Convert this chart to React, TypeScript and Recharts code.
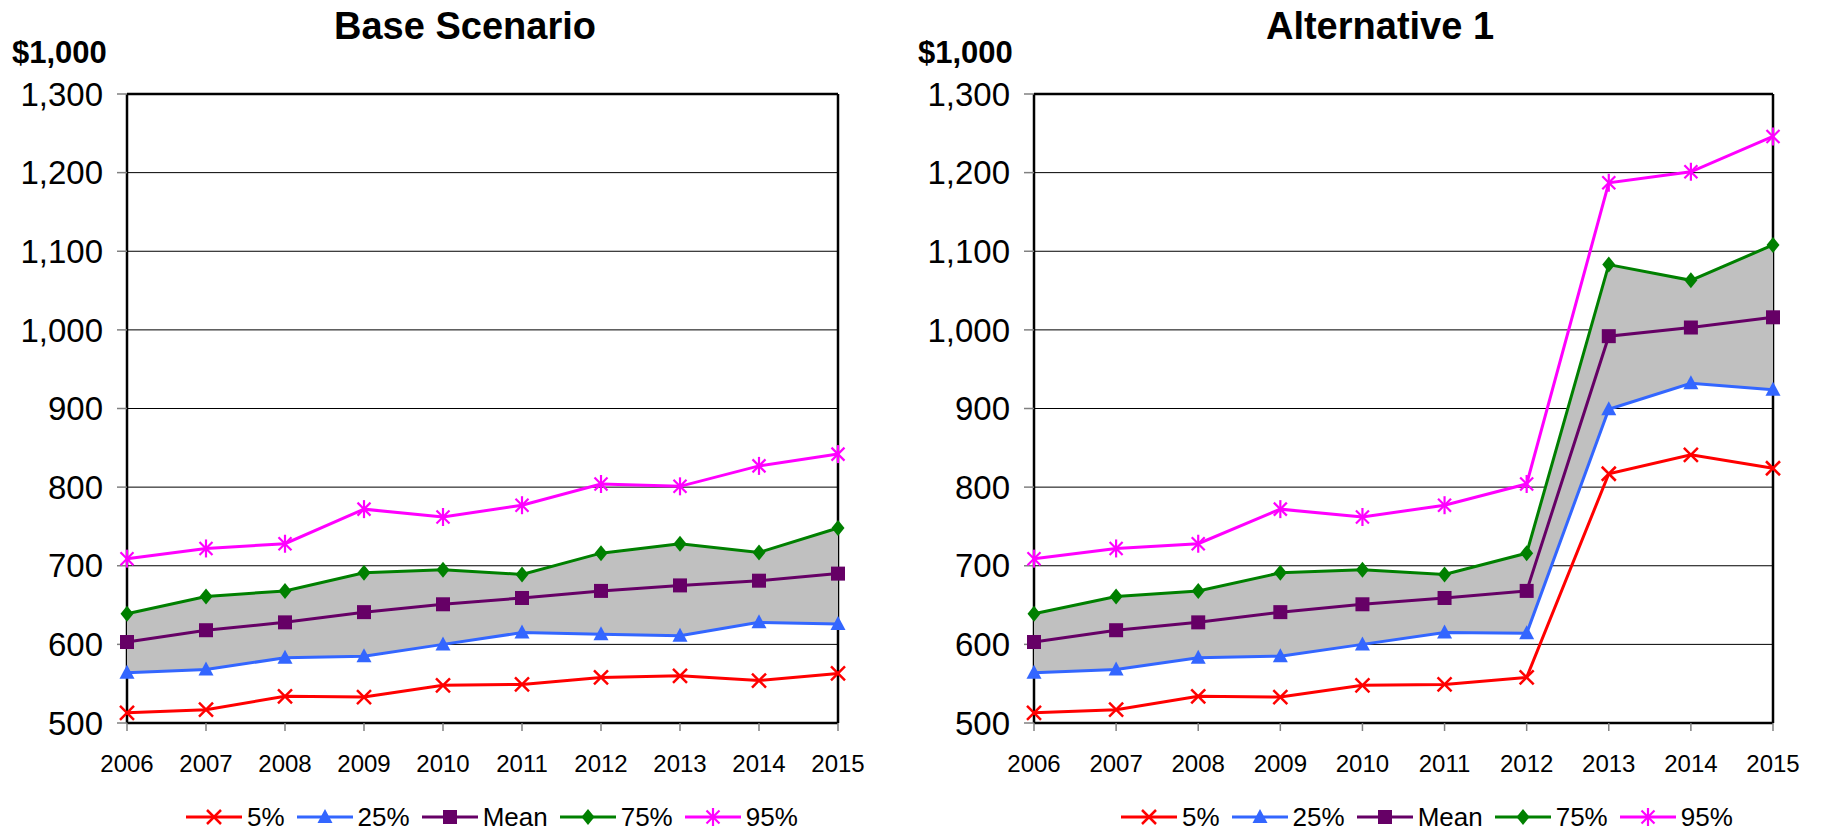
import React from 'react';
import { ComposedChart, Line, Area, XAxis, YAxis, CartesianGrid, Legend } from 'recharts';

const years = ['2006', '2007', '2008', '2009', '2010', '2011', '2012', '2013', '2014', '2015'];
const yTicks = [500, 600, 700, 800, 900, 1000, 1100, 1200, 1300];

const base5 = [513, 517, 534, 533, 548, 549, 558, 560, 554, 563];
const base25 = [564, 568, 583, 585, 600, 615, 613, 611, 628, 626];
const baseMean = [603, 618, 628, 641, 651, 659, 668, 675, 681, 690];
const base75 = [639, 661, 668, 691, 695, 689, 716, 728, 717, 748];
const base95 = [709, 722, 728, 772, 762, 777, 804, 801, 827, 842];

const alt5 = [513, 517, 534, 533, 548, 549, 558, 817, 841, 824];
const alt25 = [564, 568, 583, 585, 600, 615, 614, 899, 932, 924];
const altMean = [603, 618, 628, 641, 651, 659, 668, 992, 1003, 1016];
const alt75 = [639, 661, 668, 691, 695, 689, 716, 1083, 1063, 1108];
const alt95 = [709, 722, 728, 772, 762, 777, 804, 1187, 1201, 1246];

const FONT = '"Liberation Sans", Arial, Helvetica, sans-serif';

type Shape = 'x' | 'triangle' | 'square' | 'diamond' | 'star';
const SERIES: { key: string; name: string; color: string; shape: Shape }[] = [
  { key: 'p5', name: '5%', color: '#FF0000', shape: 'x' },
  { key: 'p25', name: '25%', color: '#3366FF', shape: 'triangle' },
  { key: 'mean', name: 'Mean', color: '#660066', shape: 'square' },
  { key: 'p75', name: '75%', color: '#008000', shape: 'diamond' },
  { key: 'p95', name: '95%', color: '#FF00FF', shape: 'star' },
];

function buildData(p5: number[], p25: number[], mean: number[], p75: number[], p95: number[]) {
  return years.map((year, i) => ({
    year,
    p5: p5[i],
    p25: p25[i],
    mean: mean[i],
    p75: p75[i],
    p95: p95[i],
    band: [p25[i], p75[i]],
  }));
}

const baseData = buildData(base5, base25, baseMean, base75, base95);
const altData = buildData(alt5, alt25, altMean, alt75, alt95);

function Marker({ shape, cx, cy, color }: { shape: Shape; cx: number; cy: number; color: string }) {
  if (cx == null || cy == null || isNaN(cx) || isNaN(cy)) return null;
  switch (shape) {
    case 'x': {
      const h = 7;
      return (
        <g>
          <line x1={cx - h} y1={cy - h} x2={cx + h} y2={cy + h} stroke={color} strokeWidth={2.5} />
          <line x1={cx - h} y1={cy + h} x2={cx + h} y2={cy - h} stroke={color} strokeWidth={2.5} />
        </g>
      );
    }
    case 'triangle':
      return <polygon points={`${cx},${cy - 8} ${cx - 7.5},${cy + 6} ${cx + 7.5},${cy + 6}`} fill={color} />;
    case 'square':
      return <rect x={cx - 7} y={cy - 7} width={14} height={14} fill={color} />;
    case 'diamond':
      return <polygon points={`${cx},${cy - 8} ${cx + 6.5},${cy} ${cx},${cy + 8} ${cx - 6.5},${cy}`} fill={color} />;
    case 'star': {
      const h = 6.5;
      return (
        <g>
          <line x1={cx - h} y1={cy - h} x2={cx + h} y2={cy + h} stroke={color} strokeWidth={2.2} />
          <line x1={cx - h} y1={cy + h} x2={cx + h} y2={cy - h} stroke={color} strokeWidth={2.2} />
          <line x1={cx} y1={cy - 9} x2={cx} y2={cy + 9} stroke={color} strokeWidth={2.2} />
        </g>
      );
    }
  }
  return null;
}

const renderLegend = (props: any) => {
  const payload = props.payload || [];
  const items = SERIES.map((s) => ({ s, p: payload.find((p: any) => p.dataKey === s.key) })).filter((x) => x.p);
  return (
    <div style={{ display: 'flex', alignItems: 'center', fontFamily: FONT, fontSize: 26, color: '#000', whiteSpace: 'nowrap' }}>
      {items.map(({ s, p }) => (
        <div key={s.key} style={{ display: 'flex', alignItems: 'center', marginRight: 12 }}>
          <svg width={56} height={24} style={{ display: 'block' }}>
            <line x1={0} y1={12} x2={56} y2={12} stroke={s.color} strokeWidth={3} />
            <Marker shape={s.shape} cx={28} cy={12} color={s.color} />
          </svg>
          <span style={{ marginLeft: 5, lineHeight: '26px' }}>{p.value}</span>
        </div>
      ))}
    </div>
  );
};

function Panel({
  data,
  title,
  left,
  marginLeft,
  marginRight,
  legendLeft,
  titleCenter,
  unitLeft,
}: {
  data: any[];
  title: string;
  left: number;
  marginLeft: number;
  marginRight: number;
  legendLeft: number;
  titleCenter: number;
  unitLeft: number;
}) {
  return (
    <div style={{ position: 'absolute', left, top: 0, width: 911, height: 832 }}>
      <div
        style={{
          position: 'absolute',
          left: titleCenter - 300,
          width: 600,
          top: 6,
          textAlign: 'center',
          fontFamily: FONT,
          fontWeight: 'bold',
          fontSize: 38,
          lineHeight: '40px',
          color: '#000',
        }}
      >
        {title}
      </div>
      <div
        style={{
          position: 'absolute',
          left: unitLeft,
          top: 37,
          fontFamily: FONT,
          fontWeight: 'bold',
          fontSize: 31,
          lineHeight: '32px',
          color: '#000',
        }}
      >
        $1,000
      </div>
      <ComposedChart
        width={911}
        height={832}
        data={data}
        margin={{ top: 94, right: marginRight, bottom: 69, left: marginLeft }}
        style={{ position: 'absolute', left: 0, top: 0 }}
      >
        <CartesianGrid vertical={false} stroke="#000" strokeWidth={1} />
        <XAxis
          dataKey="year"
          axisLine={false}
          tickSize={8}
          tickMargin={24}
          tickLine={{ stroke: '#808080', strokeWidth: 1.5 }}
          tick={{ fontFamily: FONT, fontSize: 24, fill: '#000' }}
          height={40}
          interval={0}
        />
        <YAxis
          domain={[500, 1300]}
          ticks={yTicks}
          width={100}
          axisLine={false}
          tickSize={10}
          tickMargin={14}
          tickLine={{ stroke: '#808080', strokeWidth: 1.5 }}
          tick={{ fontFamily: FONT, fontSize: 33, fill: '#000' }}
          tickFormatter={(v: number) => v.toLocaleString('en-US')}
          allowDataOverflow
        />
        <Area
          dataKey="band"
          type="linear"
          stroke="none"
          fill="#C0C0C0"
          fillOpacity={1}
          legendType="none"
          isAnimationActive={false}
          activeDot={false}
        />
        <CartesianGrid
          stroke="#000"
          strokeWidth={2.5}
          horizontalCoordinatesGenerator={(p: any) => [p.offset.top, p.offset.top + p.offset.height]}
          verticalCoordinatesGenerator={(p: any) => [p.offset.left, p.offset.left + p.offset.width]}
        />
        {SERIES.map((s) => (
          <Line
            key={s.key}
            dataKey={s.key}
            name={s.name}
            type="linear"
            stroke={s.color}
            strokeWidth={3}
            isAnimationActive={false}
            activeDot={false}
            dot={(dp: any) => (
              <Marker key={`${s.key}-${dp.index}`} shape={s.shape} cx={dp.cx} cy={dp.cy} color={s.color} />
            )}
          />
        ))}
        <Legend
          layout="horizontal"
          verticalAlign="middle"
          align="center"
          content={renderLegend}
          wrapperStyle={{ left: legendLeft, top: 804, width: 'auto', height: 'auto' }}
        />
      </ComposedChart>
    </div>
  );
}

export default function App() {
  return (
    <div style={{ position: 'absolute', left: 0, top: 0, width: 1822, height: 832, background: '#fff' }}>
      <Panel
        data={baseData}
        title="Base Scenario"
        left={0}
        marginLeft={27}
        marginRight={73}
        legendLeft={186}
        titleCenter={465}
        unitLeft={12}
      />
      <Panel
        data={altData}
        title="Alternative 1"
        left={911}
        marginLeft={23}
        marginRight={49}
        legendLeft={210}
        titleCenter={469}
        unitLeft={7}
      />
    </div>
  );
}
